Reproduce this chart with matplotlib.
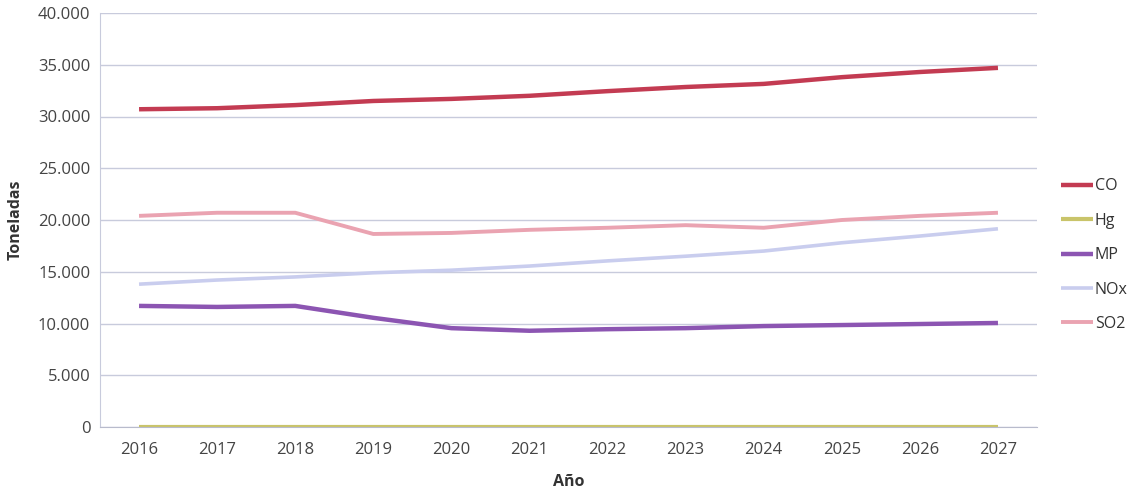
import matplotlib
matplotlib.use("Agg")
import matplotlib.pyplot as plt
from matplotlib.ticker import FuncFormatter, MultipleLocator

years = ["2016", "2017", "2018", "2019", "2020", "2021", "2022", "2023", "2024", "2025", "2026", "2027"]
co = [30700, 30800, 31100, 31500, 31700, 32000, 32450, 32850, 33150, 33800, 34300, 34700]
hg = [5, 5, 5, 5, 5, 5, 5, 5, 5, 5, 5, 5]
mp = [11700, 11600, 11700, 10550, 9550, 9300, 9450, 9550, 9750, 9850, 9950, 10050]
nox = [13800, 14200, 14500, 14900, 15150, 15550, 16050, 16500, 17000, 17800, 18450, 19150]
so2 = [20400, 20700, 20700, 18650, 18750, 19050, 19250, 19500, 19250, 20000, 20400, 20700]

series_names = ["CO", "Hg", "MP", "NOx", "SO2"]
series_vals = [co, hg, mp, nox, so2]
colors = ["#c33b52", "#c9c46a", "#8c55b2", "#c9cdee", "#eaa3b1"]
widths = [3.2, 3.0, 3.2, 2.6, 2.8]

plt.rcParams['font.family'] = ['Open Sans', 'DejaVu Sans']

fig = plt.figure(figsize=(11.33, 4.93), dpi=100)
ax = fig.add_axes([100/1133, 66/493, 937/1133, 414/493])

x = list(range(len(years)))
for name, vals, c, w in zip(series_names, series_vals, colors, widths):
    ax.plot(x, vals, color=c, lw=w, label=name, solid_capstyle='butt')

ax.set_xlim(-0.5, len(years) - 0.5)
ax.set_ylim(0, 40000)
ax.yaxis.set_major_locator(MultipleLocator(5000))
ax.yaxis.set_major_formatter(FuncFormatter(lambda v, p: f"{int(v):,}".replace(",", ".")))
ax.set_xticks(x)
ax.set_xticklabels(years)
ax.grid(axis='y', color='#c8cbdc', lw=1)
ax.set_axisbelow(True)
for s in ['top', 'right']:
    ax.spines[s].set_visible(False)
ax.spines['left'].set_color('#c8cbdc')
ax.spines['bottom'].set_color('#b8bbcc')
ax.tick_params(axis='both', length=0, labelsize=12, colors='#444444', pad=7)
ax.tick_params(axis='x', pad=11)

ax.set_ylabel("Toneladas", fontsize=11.5, fontweight='bold', color='#333333', labelpad=10)
ax.set_xlabel("Año", fontsize=11.5, fontweight='bold', color='#333333', labelpad=11)

leg = ax.legend(loc='center left', bbox_to_anchor=(1.026, 0.415), frameon=False,
                borderaxespad=0, borderpad=0,
                fontsize=11.5, handlelength=2.0, handletextpad=0.1, labelspacing=1.15,
                labelcolor='#333333')

fig.savefig("out.png", dpi=100, facecolor='white')
